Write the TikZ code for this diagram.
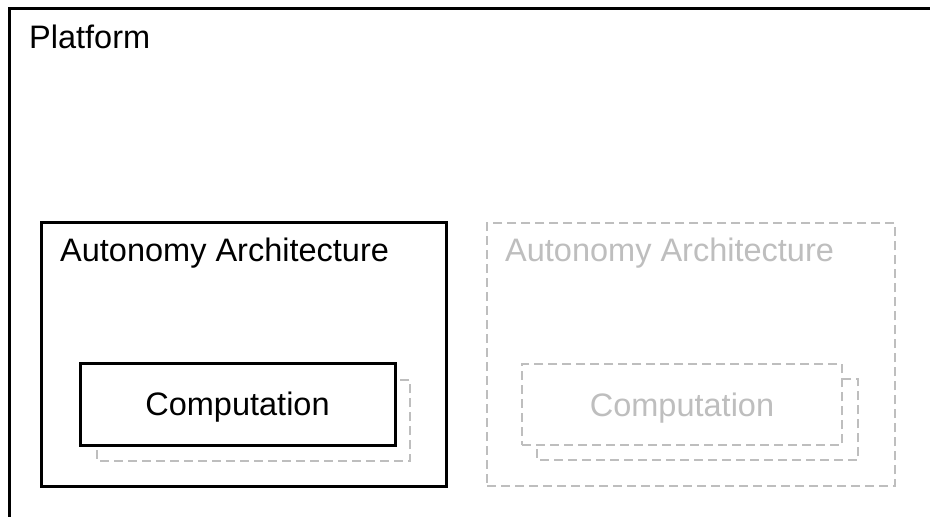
\documentclass[tikz,border=0pt]{standalone}
\usepackage{fontspec}
\setmainfont{Liberation Sans}
\definecolor{ghost}{RGB}{190,190,190}
\begin{document}
\begin{tikzpicture}[x=1pt,y=-1pt,
  solidbox/.style={draw=black,line width=3pt,fill=white},
  ghostbox/.style={draw=ghost,line width=2.2pt,dash pattern=on 9pt off 5pt},
  bigfont/.style={font=\fontsize{32.5}{38}\selectfont},
  label/.style={bigfont,anchor=base west,inner sep=0pt},
  comptext/.style={bigfont,text height=23pt,text depth=0pt},
  ghosttext/.style={text=ghost}]
\useasboundingbox (0,0) rectangle (930,517);
\fill[white] (0,0) rectangle (930,517);
% Platform frame (extends beyond the picture)
\draw[line width=3pt] (9,517) -- (9,8) -- (930,8);
\node[label] (plat) at (29,48) {Platform};
% Left autonomy architecture
\node[solidbox,minimum width=405pt,minimum height=264pt,inner sep=0pt] (aa1) at (243.5,354) {};
\node[label] (aa1t) at (60,261) {Autonomy Architecture};
\draw[ghostbox] (97,380) rectangle (410,461);
\node[solidbox,minimum width=315pt,minimum height=82pt,inner sep=0pt,comptext] (c1) at (237.5,404) {Computation};
% Right (ghost) autonomy architecture
\node[ghostbox,minimum width=408pt,minimum height=263pt,inner sep=0pt] (aa2) at (691,354.5) {};
\node[label,ghosttext] (aa2t) at (505,261) {Autonomy Architecture};
\draw[ghostbox] (537,379) rectangle (858,460);
\node[ghostbox,fill=white,minimum width=320pt,minimum height=81pt,inner sep=0pt,ghosttext,comptext] (c2) at (682,404.5) {Computation};
\end{tikzpicture}
\end{document}
